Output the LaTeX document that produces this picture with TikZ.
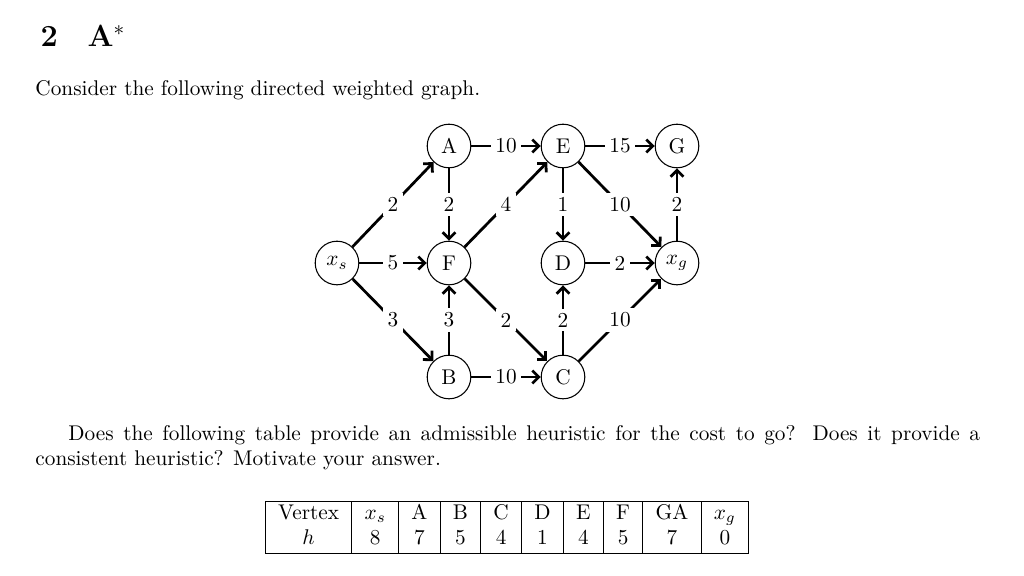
\documentclass[tikz,border=0pt]{standalone}
\usetikzlibrary{arrows.meta}
\begin{document}
\begin{tikzpicture}[x=0.47pt,y=-0.47pt,
  vtx/.style={draw,circle,minimum size=20.5pt,inner sep=0pt,line width=0.5pt},
  edge/.style={-{Straight Barb[length=3pt,width=6pt]},line width=1.3pt},
  lbl/.style={fill=white,inner sep=2pt,midway}]
\useasboundingbox (0,0) rectangle (1024,575);
\node[anchor=base west,font=\Large\bfseries] (t1) at (33,47) {2};
\node[anchor=base west,font=\Large\bfseries] (t2) at (80,47) {A$^{*}$};
\node[anchor=base west,inner sep=0pt] (c1) at (35,96) {Consider the following directed weighted graph.};
\node (xs) [vtx] at (337,263) {$x_s$};
\node (A) [vtx] at (449,146) {A};
\node (F) [vtx] at (449,263) {F};
\node (B) [vtx] at (449,377) {B};
\node (E) [vtx] at (563,146) {E};
\node (D) [vtx] at (563,263) {D};
\node (C) [vtx] at (563,377) {C};
\node (G) [vtx] at (677,146) {G};
\node (xg) [vtx] at (677,263) {$x_g$};
\draw[edge] (xs) -- node[lbl]{2} (A);
\draw[edge] (xs) -- node[lbl]{5} (F);
\draw[edge] (xs) -- node[lbl]{3} (B);
\draw[edge] (A) -- node[lbl]{10} (E);
\draw[edge] (A) -- node[lbl]{2} (F);
\draw[edge] (B) -- node[lbl]{3} (F);
\draw[edge] (B) -- node[lbl]{10} (C);
\draw[edge] (F) -- node[lbl]{4} (E);
\draw[edge] (F) -- node[lbl]{2} (C);
\draw[edge] (E) -- node[lbl]{15} (G);
\draw[edge] (E) -- node[lbl]{1} (D);
\draw[edge] (E) -- node[lbl]{10} (xg);
\draw[edge] (C) -- node[lbl]{2} (D);
\draw[edge] (C) -- node[lbl]{10} (xg);
\draw[edge] (D) -- node[lbl]{2} (xg);
\draw[edge] (xg) -- node[lbl]{2} (G);
\node[anchor=north west,inner sep=0pt,text width=444pt,align=justify] (p) at (35,425)
 {\hspace*{15.5pt}Does the following table provide an admissible heuristic for the cost to go? Does it provide a\linebreak consistent heuristic? Motivate your answer.};
\node[inner sep=0pt] (tab) at (507,527) {\begin{tabular}{|c|c|c|c|c|c|c|c|c|c|}\hline
Vertex & $x_s$ & A & B & C & D & E & F & GA & $x_g$\\
$h$ & 8 & 7 & 5 & 4 & 1 & 4 & 5 & 7 & 0\\\hline\end{tabular}};
\end{tikzpicture}
\end{document}
